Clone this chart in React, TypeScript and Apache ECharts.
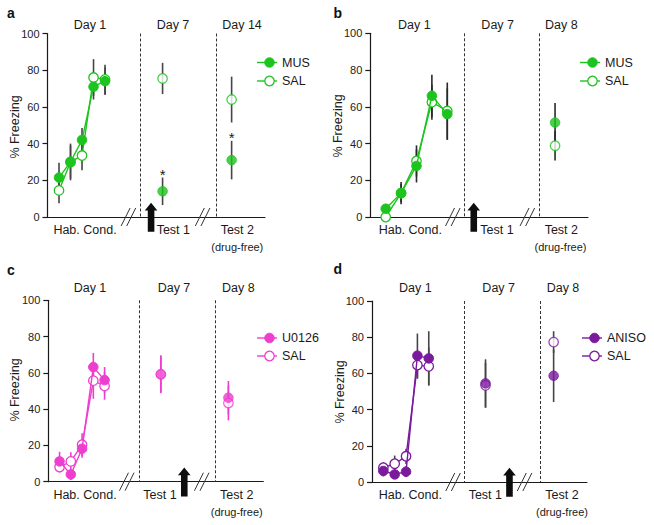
import React, { useEffect, useRef } from "react";
import * as echarts from "echarts";

// ---------- data ----------
const HAB_SLOTS = [1, 2, 3, 4, 5];

// panel a : MUS vs SAL, test on Day 7 and Day 14
const A_HAB_MUS = [21.5, 30, 42, 71, 74];
const A_HAB_MUS_ERR = [8, 10, 6.5, 7, 7.5];
const A_HAB_SAL = [14.5, 30, 33.5, 76, 75];
const A_HAB_SAL_ERR = [7, 9, 8, 10, 8];
const A_TEST_SLOTS = [10, 16];
const A_TEST_MUS = [14, 31];
const A_TEST_MUS_ERR = [7.5, 10.5];
const A_TEST_SAL = [75.5, 64];
const A_TEST_SAL_ERR = [8.5, 12.5];
const A_SIG = [true, true];

// panel b : MUS vs SAL, drug-free test on Day 8 only
const B_HAB_MUS = [4.5, 13, 27.8, 66, 56];
const B_HAB_MUS_ERR = [2.5, 6, 9, 11.5, 14];
const B_HAB_SAL = [0, 13, 30.5, 62.5, 57.7];
const B_HAB_SAL_ERR = [0, 5, 8.5, 9.5, 15.5];
const B_TEST_SLOTS = [12];
const B_TEST_MUS = [51.4];
const B_TEST_MUS_ERR = [10.6];
const B_TEST_SAL = [38.8];
const B_TEST_SAL_ERR = [8];
const B_SIG = [false];

// panel c : U0126 vs SAL
const C_HAB_DRUG = [11.2, 4, 18.2, 63.2, 56];
const C_HAB_DRUG_ERR = [5.3, 3, 5, 7.8, 7.2];
const C_HAB_SAL = [8.1, 11.2, 20.4, 55.7, 52.8];
const C_HAB_SAL_ERR = [3, 5, 6.3, 10, 7.6];
const C_TEST_SLOTS = [10, 16];
const C_TEST_DRUG = [59.2, 46.3];
const C_TEST_DRUG_ERR = [10.5, 9.2];
const C_TEST_SAL = [59.2, 43.4];
const C_TEST_SAL_ERR = [10, 9.6];
const C_SIG = [false, false];

// panel d : ANISO vs SAL
const D_HAB_DRUG = [6.1, 4.2, 5.7, 69.8, 68.3];
const D_HAB_DRUG_ERR = [3, 2.5, 3, 12.2, 15];
const D_HAB_SAL = [7.9, 10.1, 14.2, 64.6, 63.9];
const D_HAB_SAL_ERR = [3, 4.5, 4.2, 7.6, 10.5];
const D_TEST_SLOTS = [10, 16];
const D_TEST_DRUG = [54.5, 58.7];
const D_TEST_DRUG_ERR = [13.3, 14.5];
const D_TEST_SAL = [53.4, 77.3];
const D_TEST_SAL_ERR = [12.4, 6];
const D_SIG = [false, false];

const Y_TICKS = [0, 20, 40, 60, 80, 100];

// ---------- styles / layout ----------
const FONT = "Liberation Sans, Arial, Helvetica, sans-serif";
const GREEN = "#1ec41e";
const PINK = "#ee3ed0";
const PURPLE = "#7a1a9c";
const INK = "#1a1a1a";

type Panel = {
  letter: string;
  letterPos: [number, number];
  grid: { left: number; top: number; width: number; height: number };
  xMax: number;
  drug: string;
  color: string;
  errColor: string;
  habDrug: number[];
  habDrugErr: number[];
  habSal: number[];
  habSalErr: number[];
  testSlots: number[];
  testDrug: number[];
  testDrugErr: number[];
  testSal: number[];
  testSalErr: number[];
  sig: boolean[];
  dashed: number[];
  breaks: number[];
  arrow: number;
  days: string[];
  dayX: number[];
  dayY: number;
  bottom: { text: string; x: number; y: number; size: number }[];
  legend: [number, number, number];
  yName: [number, number];
};

const PANELS: Panel[] = [
  {
    letter: "a",
    letterPos: [7, 13],
    grid: { left: 47.5, top: 33.5, width: 217.5, height: 183.5 },
    xMax: 18.9,
    drug: "MUS",
    color: GREEN,
    errColor: "#454545",
    habDrug: A_HAB_MUS,
    habDrugErr: A_HAB_MUS_ERR,
    habSal: A_HAB_SAL,
    habSalErr: A_HAB_SAL_ERR,
    testSlots: A_TEST_SLOTS,
    testDrug: A_TEST_MUS,
    testDrugErr: A_TEST_MUS_ERR,
    testSal: A_TEST_SAL,
    testSalErr: A_TEST_SAL_ERR,
    sig: A_SIG,
    dashed: [8.04, 14.65],
    breaks: [7.03, 13.48],
    arrow: 9.0,
    days: ["Day 1", "Day 7", "Day 14"],
    dayX: [90, 173, 242],
    dayY: 24.5,
    bottom: [
      { text: "Hab. Cond.", x: 85, y: 229.5, size: 12.5 },
      { text: "Test 1", x: 173.3, y: 229.5, size: 12.5 },
      { text: "Test 2", x: 237.3, y: 229.5, size: 12.5 },
      { text: "(drug-free)", x: 237.3, y: 246.5, size: 11 },
    ],
    legend: [257, 62.5, 81],
    yName: [15, 127],
  },
  {
    letter: "b",
    letterPos: [333.5, 12.5],
    grid: { left: 370.3, top: 33.3, width: 217.7, height: 183.7 },
    xMax: 14.14,
    drug: "MUS",
    color: GREEN,
    errColor: "#2a2a2a",
    habDrug: B_HAB_MUS,
    habDrugErr: B_HAB_MUS_ERR,
    habSal: B_HAB_SAL,
    habSalErr: B_HAB_SAL_ERR,
    testSlots: B_TEST_SLOTS,
    testDrug: B_TEST_MUS,
    testDrugErr: B_TEST_MUS_ERR,
    testSal: B_TEST_SAL,
    testSalErr: B_TEST_SAL_ERR,
    sig: B_SIG,
    dashed: [6.13, 11.0],
    breaks: [5.36, 10.2],
    arrow: 6.72,
    days: ["Day 1", "Day 7", "Day 8"],
    dayX: [414.3, 497.7, 561.3],
    dayY: 24.5,
    bottom: [
      { text: "Hab. Cond.", x: 410.3, y: 229.5, size: 12.5 },
      { text: "Test 1", x: 497, y: 229.5, size: 12.5 },
      { text: "Test 2", x: 561.3, y: 229.5, size: 12.5 },
      { text: "(drug-free)", x: 560.5, y: 246.5, size: 11 },
    ],
    legend: [580, 62.5, 81],
    yName: [338, 126],
  },
  {
    letter: "c",
    letterPos: [7, 270],
    grid: { left: 48.3, top: 300.3, width: 215, height: 181.4 },
    xMax: 19.1,
    drug: "U0126",
    color: PINK,
    errColor: PINK,
    habDrug: C_HAB_DRUG,
    habDrugErr: C_HAB_DRUG_ERR,
    habSal: C_HAB_SAL,
    habSalErr: C_HAB_SAL_ERR,
    testSlots: C_TEST_SLOTS,
    testDrug: C_TEST_DRUG,
    testDrugErr: C_TEST_DRUG_ERR,
    testSal: C_TEST_SAL,
    testSalErr: C_TEST_SAL_ERR,
    sig: C_SIG,
    dashed: [8.09, 14.8],
    breaks: [6.97, 13.63],
    arrow: 12.08,
    days: ["Day 1", "Day 7", "Day 8"],
    dayX: [90, 174, 238.3],
    dayY: 287.5,
    bottom: [
      { text: "Hab. Cond.", x: 85, y: 495.3, size: 12.5 },
      { text: "Test 1", x: 160, y: 495.3, size: 12.5 },
      { text: "Test 2", x: 236.7, y: 495.3, size: 12.5 },
      { text: "(drug-free)", x: 236.7, y: 512, size: 11 },
    ],
    legend: [257, 338, 356],
    yName: [15, 390],
  },
  {
    letter: "d",
    letterPos: [333.5, 268.5],
    grid: { left: 372, top: 301, width: 215, height: 181 },
    xMax: 18.94,
    drug: "ANISO",
    color: PURPLE,
    errColor: "#454545",
    habDrug: D_HAB_DRUG,
    habDrugErr: D_HAB_DRUG_ERR,
    habSal: D_HAB_SAL,
    habSalErr: D_HAB_SAL_ERR,
    testSlots: D_TEST_SLOTS,
    testDrug: D_TEST_DRUG,
    testDrugErr: D_TEST_DRUG_ERR,
    testSal: D_TEST_SAL,
    testSalErr: D_TEST_SAL_ERR,
    sig: D_SIG,
    dashed: [8.17, 14.83],
    breaks: [7.14, 13.44],
    arrow: 12.11,
    days: ["Day 1", "Day 7", "Day 8"],
    dayX: [415.3, 498.7, 563],
    dayY: 287.5,
    bottom: [
      { text: "Hab. Cond.", x: 410.3, y: 495.3, size: 12.5 },
      { text: "Test 1", x: 485.3, y: 495.3, size: 12.5 },
      { text: "Test 2", x: 562, y: 495.3, size: 12.5 },
      { text: "(drug-free)", x: 562, y: 512, size: 11 },
    ],
    legend: [582, 338, 356],
    yName: [340.3, 392],
  },
];

const SYM = 9.5;

function pairs(xs: number[], ys: number[]) {
  return xs.map((x, i) => [x, ys[i]]);
}
function errRows(xs: number[], ys: number[], es: number[]) {
  return xs.map((x, i) => [x, ys[i] - es[i], ys[i] + es[i]]);
}

function buildOption() {
  const grids: any[] = [];
  const xAxes: any[] = [];
  const yAxes: any[] = [];
  const series: any[] = [];
  const graphic: any[] = [];

  PANELS.forEach((p, gi) => {
    grids.push({ ...p.grid, containLabel: false });
    xAxes.push({
      type: "value",
      gridIndex: gi,
      min: 0,
      max: p.xMax,
      axisLine: { show: true, onZero: false, lineStyle: { color: INK, width: 1.2 } },
      axisTick: { show: false },
      axisLabel: { show: false },
      splitLine: { show: false },
    });
    yAxes.push({
      type: "value",
      gridIndex: gi,
      min: Y_TICKS[0],
      max: Y_TICKS[Y_TICKS.length - 1],
      interval: Y_TICKS[1] - Y_TICKS[0],
      axisLine: { show: true, lineStyle: { color: INK, width: 1.2 } },
      axisTick: { show: true, length: 5, lineStyle: { color: INK, width: 1.2 } },
      axisLabel: { margin: 8, color: "#222", fontFamily: FONT, fontSize: 11 },
      splitLine: { show: false },
    });

    const openStyle = { color: "#fff", borderColor: p.color, borderWidth: 1.3 };
    const fillStyle = { color: p.color, borderColor: p.color, borderWidth: 1 };

    // error bars (drawn under markers) + dashed separators
    const errData = [
      ...errRows(HAB_SLOTS, p.habSal, p.habSalErr),
      ...errRows(HAB_SLOTS, p.habDrug, p.habDrugErr),
      ...errRows(p.testSlots, p.testSal, p.testSalErr),
      ...errRows(p.testSlots, p.testDrug, p.testDrugErr),
    ];
    series.push({
      type: "custom",
      xAxisIndex: gi,
      yAxisIndex: gi,
      z: 1,
      clip: false,
      data: errData,
      encode: { x: 0, y: [1, 2] },
      renderItem: (_params: any, api: any) => {
        const x = api.value(0);
        const a = api.coord([x, api.value(1)]);
        const b = api.coord([x, api.value(2)]);
        return {
          type: "line",
          shape: { x1: a[0], y1: a[1], x2: b[0], y2: b[1] },
          style: { stroke: p.errColor, lineWidth: 1.6 },
        };
      },
      markLine: {
        silent: true,
        symbol: ["none", "none"],
        label: { show: false },
        lineStyle: { color: "#333", width: 1, type: [3, 2] },
        data: p.dashed.map((dx) => [{ coord: [dx, 100] }, { coord: [dx, 0] }]),
      },
    });

    // SAL line (open)
    series.push({
      type: "line",
      xAxisIndex: gi,
      yAxisIndex: gi,
      z: 3,
      data: pairs(HAB_SLOTS, p.habSal),
      symbol: "circle",
      symbolSize: SYM,
      showAllSymbol: true,
      lineStyle: { color: p.color, width: 1.4 },
      itemStyle: openStyle,
    });
    // drug line (filled)
    series.push({
      type: "line",
      xAxisIndex: gi,
      yAxisIndex: gi,
      z: 4,
      data: pairs(HAB_SLOTS, p.habDrug),
      symbol: "circle",
      symbolSize: SYM,
      showAllSymbol: true,
      lineStyle: { color: p.color, width: 1.4 },
      itemStyle: fillStyle,
    });
    // test points
    series.push({
      type: "scatter",
      xAxisIndex: gi,
      yAxisIndex: gi,
      z: 3,
      data: pairs(p.testSlots, p.testSal),
      symbol: "circle",
      symbolSize: SYM,
      itemStyle: openStyle,
    });
    series.push({
      type: "scatter",
      xAxisIndex: gi,
      yAxisIndex: gi,
      z: 4,
      data: pairs(p.testSlots, p.testDrug),
      symbol: "circle",
      symbolSize: SYM,
      itemStyle: fillStyle,
    });

    // significance asterisks above the drug error bar
    const sigData = p.testSlots
      .map((x, i) => (p.sig[i] ? [x, p.testDrug[i] + p.testDrugErr[i]] : null))
      .filter(Boolean);
    if (sigData.length) {
      series.push({
        type: "custom",
        xAxisIndex: gi,
        yAxisIndex: gi,
        z: 5,
        clip: false,
        data: sigData,
        renderItem: (_params: any, api: any) => {
          const c = api.coord([api.value(0), api.value(1)]);
          return {
            type: "text",
            x: c[0],
            y: c[1] - 3.5,
            style: {
              text: "*",
              fill: INK,
              font: `15px ${FONT}`,
              align: "center",
              verticalAlign: "middle",
            },
          };
        },
      });
    }

    // axis break marks and arrow (decorations placed at axis coordinates)
    series.push({
      type: "custom",
      xAxisIndex: gi,
      yAxisIndex: gi,
      z: 6,
      clip: false,
      data: p.breaks.map((b) => [b, 0]),
      renderItem: (_params: any, api: any) => {
        const c = api.coord([api.value(0), api.value(1)]);
        const dx = 4.5;
        const dy = 9;
        const gap = 2.8;
        return {
          type: "group",
          children: [-gap, gap].map((o) => ({
            type: "line",
            shape: { x1: c[0] + o - dx, y1: c[1] + dy, x2: c[0] + o + dx, y2: c[1] - dy },
            style: { stroke: "#333", lineWidth: 1 },
          })),
        };
      },
    });
    series.push({
      type: "custom",
      xAxisIndex: gi,
      yAxisIndex: gi,
      z: 6,
      clip: false,
      data: [[p.arrow, 0]],
      renderItem: (_params: any, api: any) => {
        const c = api.coord([api.value(0), api.value(1)]);
        const x = c[0];
        const y0 = c[1];
        const tip = y0 - 14.3;
        const base = y0 - 6.5;
        const bottom = y0 + 14.7;
        const sw = 3.3;
        const hw = 6.3;
        return {
          type: "polygon",
          shape: {
            points: [
              [x, tip],
              [x + hw, base],
              [x + sw, base],
              [x + sw, bottom],
              [x - sw, bottom],
              [x - sw, base],
              [x - hw, base],
            ],
          },
          style: { fill: "#0d0d0d" },
        };
      },
    });

    // texts
    graphic.push({
      type: "text",
      x: p.letterPos[0],
      y: p.letterPos[1],
      style: { text: p.letter, font: `bold 14px ${FONT}`, fill: "#111", align: "left", verticalAlign: "middle" },
    });
    p.days.forEach((d, i) =>
      graphic.push({
        type: "text",
        x: p.dayX[i],
        y: p.dayY,
        style: { text: d, font: `12.5px ${FONT}`, fill: INK, align: "center", verticalAlign: "middle" },
      })
    );
    p.bottom.forEach((b) =>
      graphic.push({
        type: "text",
        x: b.x,
        y: b.y,
        style: { text: b.text, font: `${b.size}px ${FONT}`, fill: INK, align: "center", verticalAlign: "middle" },
      })
    );
    graphic.push({
      type: "text",
      x: p.yName[0],
      y: p.yName[1],
      rotation: Math.PI / 2,
      style: { text: "% Freezing", font: `12.5px ${FONT}`, fill: INK, align: "center", verticalAlign: "middle" },
    });
    // legend
    const [lx, ly1, ly2] = p.legend;
    [
      { y: ly1, name: p.drug, filled: true },
      { y: ly2, name: "SAL", filled: false },
    ].forEach((it) => {
      graphic.push({
        type: "line",
        shape: { x1: lx, y1: it.y, x2: lx + 20, y2: it.y },
        style: { stroke: p.color, lineWidth: 1.4 },
      });
      graphic.push({
        type: "circle",
        shape: { cx: lx + 12.5, cy: it.y, r: SYM / 2 },
        style: it.filled
          ? { fill: p.color, stroke: p.color, lineWidth: 1 }
          : { fill: "#fff", stroke: p.color, lineWidth: 1.3 },
      });
      graphic.push({
        type: "text",
        x: lx + 25,
        y: it.y,
        style: { text: it.name, font: `12.5px ${FONT}`, fill: INK, align: "left", verticalAlign: "middle" },
      });
    });
  });

  return {
    animation: false,
    backgroundColor: "#ffffff",
    textStyle: { fontFamily: FONT },
    grid: grids,
    xAxis: xAxes,
    yAxis: yAxes,
    series,
    graphic,
  };
}

export default function App() {
  const ref = useRef<HTMLDivElement>(null);
  useEffect(() => {
    if (!ref.current) return;
    const chart = echarts.init(ref.current, undefined, { renderer: "svg" });
    chart.setOption(buildOption() as any);
    return () => chart.dispose();
  }, []);
  return (
    <div
      ref={ref}
      style={{ width: 654, height: 525, position: "absolute", left: 0, top: 0, background: "#fff" }}
    />
  );
}
